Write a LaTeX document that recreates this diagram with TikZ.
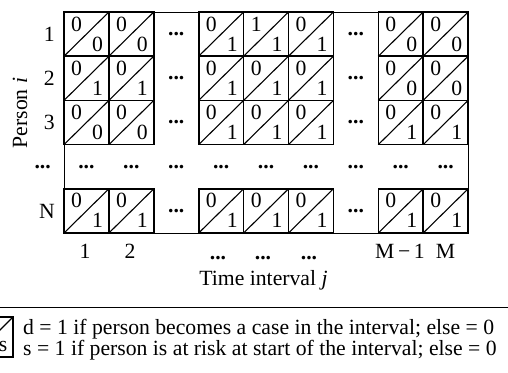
\documentclass[tikz,border=0pt]{standalone}
\usepackage{fontspec}
\setmainfont{Liberation Serif}
\usetikzlibrary{positioning,calc}

\begin{document}
\begin{tikzpicture}[
    x=1pt, y=-1pt,
    txt/.style={font=\fontsize{21.7}{26}\selectfont, inner sep=0pt},
    dotsnode/.style={font=\bfseries\fontsize{21.7}{26}\selectfont, inner sep=0pt},
    cell/.style={draw, line width=1.6pt, minimum width=44.9pt, minimum height=44.2pt,
                 inner sep=0pt, outer sep=0pt},
    diag/.style={line width=1.1pt},
    frame/.style={line width=0.8pt},
  ]
  \useasboundingbox (0,0) rectangle (508,372);

  % outer frame of the table
  \draw[frame] (64,12) rectangle (468,233);

  % the cells: row / column / d / s
  \foreach \row/\col/\dval/\sval in {
      1/1/0/0, 1/2/0/0, 1/4/0/1, 1/5/1/1, 1/6/0/1, 1/8/0/0, 1/9/0/0,
      2/1/0/1, 2/2/0/1, 2/4/0/1, 2/5/0/1, 2/6/0/1, 2/8/0/0, 2/9/0/0,
      3/1/0/0, 3/2/0/0, 3/4/0/1, 3/5/0/1, 3/6/0/1, 3/8/0/1, 3/9/0/1,
      5/1/0/1, 5/2/0/1, 5/4/0/1, 5/5/0/1, 5/6/0/1, 5/8/0/1, 5/9/0/1} {
    \pgfmathsetmacro{\cx}{64+44.9*(\col-0.5)}
    \pgfmathsetmacro{\cy}{12+44.2*(\row-0.5)}
    \node[cell] (c-\row-\col) at (\cx,\cy) {};
    \draw[diag] (c-\row-\col.south west) -- (c-\row-\col.north east);
    \node[txt] (d-\row-\col) at ([xshift=12.6pt,yshift=-12pt]c-\row-\col.north west) {\dval};
    \node[txt] (s-\row-\col) at ([xshift=33.5pt,yshift=-32pt]c-\row-\col.north west) {\sval};
  }

  % dots between the groups and in the gap row
  \foreach \row in {1,2,3,5} {
    \node[dotsnode] (gap-a-\row) at (176.25,12+44.2*\row-22.1) {...};
    \node[dotsnode] (gap-b-\row) at (355.85,12+44.2*\row-22.1) {...};
  }
  \foreach \col in {1,...,9} {
    \node[dotsnode] (gap-r-\col) at (64+44.9*\col-22.45,166.7) {...};
  }

  % row labels
  \node[txt, anchor=east] (row-1) at (55,34.1) {1};
  \node[txt, anchor=east] (row-2) at (55,78.3) {2};
  \node[txt, anchor=east] (row-3) at (55,122.5) {3};
  \node[dotsnode, anchor=east] (row-4) at (51,166.7) {...};
  \node[txt, anchor=east] (row-n) at (55,210.9) {N};
  \node[txt, rotate=90] (person) at (20,113) {Person \textit{i}};

  % column labels
  \node[txt, anchor=base] (col-1) at (85,258.5) {1};
  \node[txt, anchor=base] (col-2) at (130,258.5) {2};
  \node[dotsnode, anchor=base] (col-4) at (218,259) {...};
  \node[dotsnode, anchor=base] (col-5) at (263,259) {...};
  \node[dotsnode, anchor=base] (col-6) at (309,259) {...};
  \node[txt, anchor=base] (col-8) at (400,258.5) {M\,−\,1};
  \node[txt, anchor=base] (col-9) at (445.6,258.5) {M};
  \node[txt, anchor=base] (time) at (263.5,285.5) {Time interval \textit{j}};

  % key
  \draw[frame] (0,307) -- (508,307);
  \node[cell, minimum width=40pt, minimum height=40pt] (key) at (-7,337) {};
  \draw[diag] (key.south west) -- (key.north east);
  \node[txt] (key-s) at ([xshift=30pt,yshift=-29pt]key.north west) {s};
  \node[txt, anchor=base west] (key-line-d) at (23,334)
    {d = 1 if person becomes a case in the interval; else = 0};
  \node[txt, anchor=base west] (key-line-s) at (23,355)
    {s = 1 if person is at risk at start of the interval; else = 0};
\end{tikzpicture}
\end{document}
